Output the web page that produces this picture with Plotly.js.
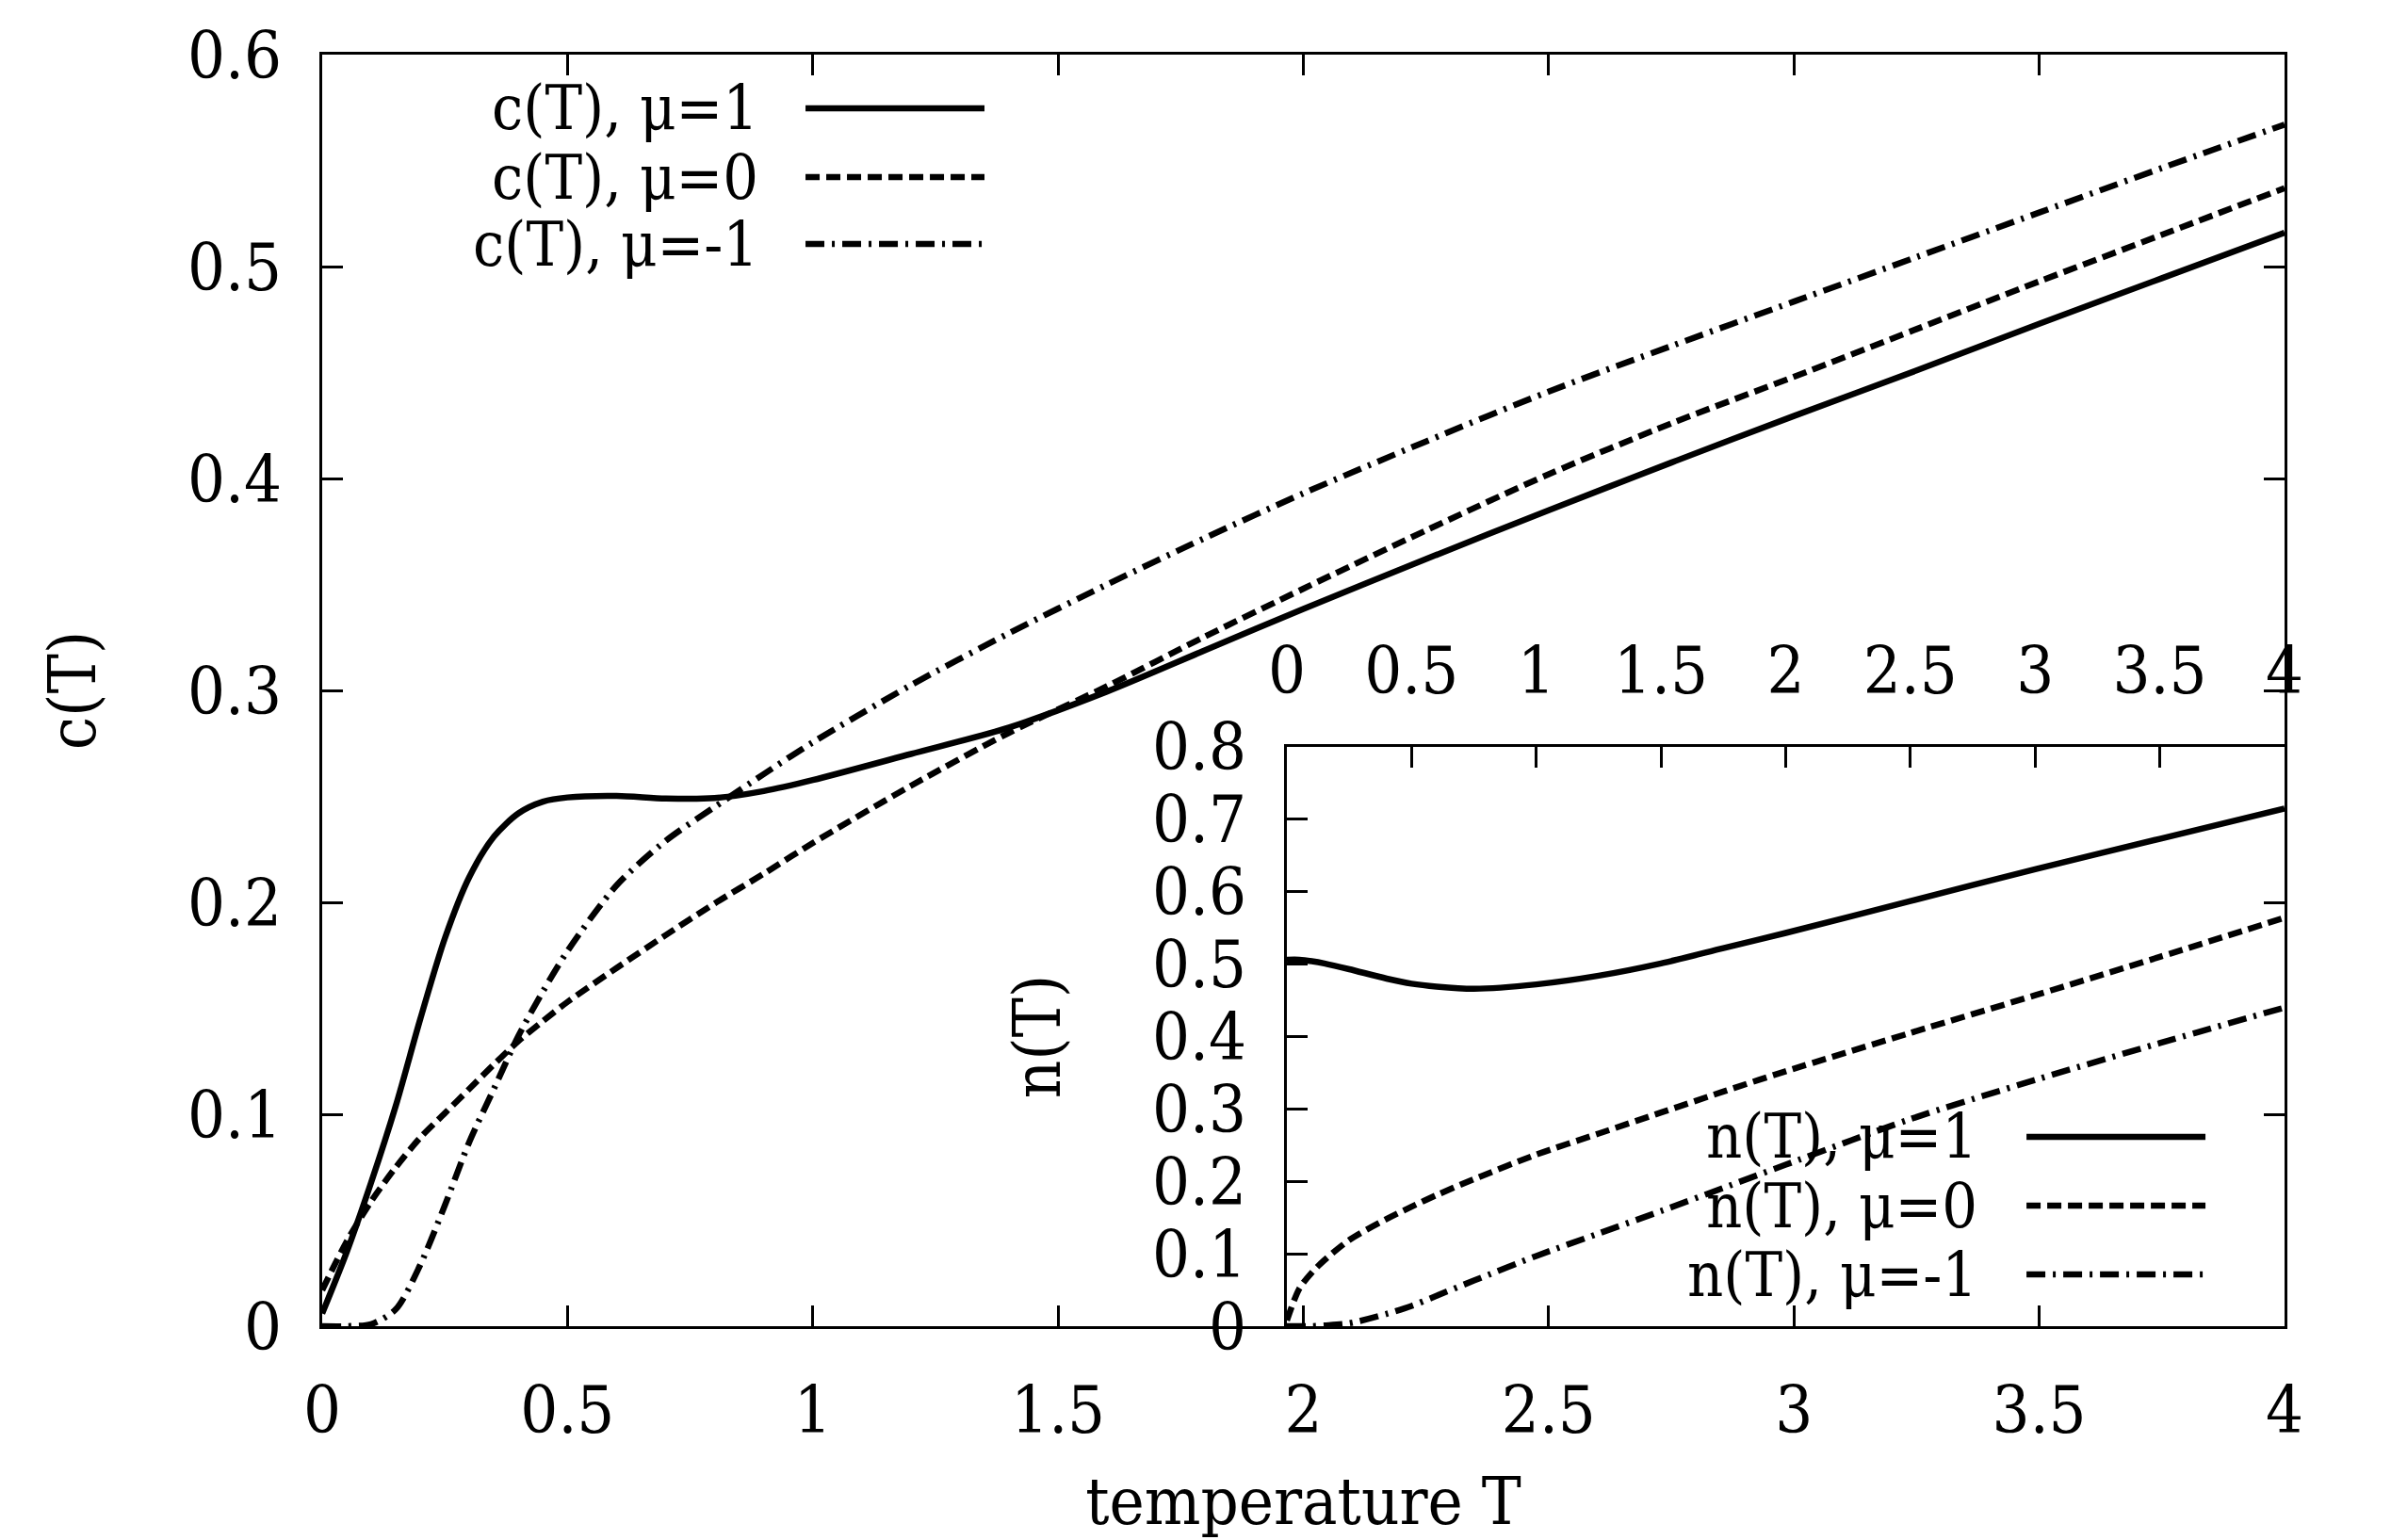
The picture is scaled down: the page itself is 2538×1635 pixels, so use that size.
<!DOCTYPE html>
<html>
<head>
<meta charset="utf-8">
<script src="https://cdn.plot.ly/plotly-3.0.1.min.js"></script>
<style>
  html, body { margin: 0; padding: 0; background: #fff; }
  #chart { width: 2538px; height: 1635px; }
</style>
</head>
<body>
<div id="chart"></div>
<script>
// temperature grid of the main panel
var tMain = [0, 0.05, 0.1, 0.15, 0.2, 0.25, 0.3, 0.35, 0.4, 0.45, 0.5, 0.6, 0.7, 0.8, 0.9, 1.0,
             1.2, 1.4, 1.6, 1.8, 2.0, 2.25, 2.5, 2.75, 3.0, 3.25, 3.5, 3.75, 4.0];
// c(T)
var cMu1 = [0.006, 0.035, 0.068, 0.104, 0.145, 0.183, 0.212, 0.231, 0.242, 0.2475, 0.2495, 0.2502, 0.249, 0.2492, 0.2525, 0.2577,
            0.270, 0.2825, 0.2995, 0.319, 0.3385, 0.362, 0.385, 0.4075, 0.4295, 0.451, 0.473, 0.4945, 0.516];
var cMu0 = [0.017, 0.040, 0.059, 0.075, 0.089, 0.1005, 0.112, 0.1235, 0.1345, 0.144, 0.153, 0.169, 0.1845, 0.1995, 0.2135, 0.228,
            0.255, 0.280, 0.302, 0.3255, 0.348, 0.3755, 0.402, 0.426, 0.448, 0.4705, 0.493, 0.515, 0.537];
var cMuM1 = [0, 0, 0.001, 0.008, 0.029, 0.057, 0.087, 0.112, 0.137, 0.158, 0.177, 0.208, 0.229, 0.245, 0.2605, 0.2755,
             0.3025, 0.327, 0.350, 0.372, 0.393, 0.4175, 0.441, 0.4625, 0.4835, 0.5045, 0.5255, 0.5465, 0.567];

// temperature grid of the inset
var tInset = [0, 0.05, 0.1, 0.15, 0.25, 0.4, 0.5, 0.6, 0.75, 1.0, 1.25, 1.5, 1.75, 2.0, 2.5, 3.0, 3.5, 4.0];
// n(T)
var nMu1 = [0.506, 0.506, 0.504, 0.501, 0.493, 0.480, 0.473, 0.469, 0.466, 0.472, 0.484, 0.501, 0.522, 0.543, 0.587, 0.631, 0.673, 0.715];
var nMu0 = [0.008, 0.052, 0.074, 0.091, 0.119, 0.148, 0.165, 0.181, 0.203, 0.237, 0.266, 0.295, 0.324, 0.352, 0.405, 0.457, 0.510, 0.564];
var nMuM1 = [0, 0, 0, 0.001, 0.004, 0.017, 0.028, 0.042, 0.063, 0.097, 0.128, 0.159, 0.191, 0.223, 0.286, 0.340, 0.391, 0.440];

var mainLabels = ['c(T), μ=1', 'c(T), μ=0', 'c(T), μ=-1'];
var insetLabels = ['n(T), μ=1', 'n(T), μ=0', 'n(T), μ=-1'];

var FONT = 'DejaVu Serif Condensed, DejaVu Serif, serif';
var dashes = ['solid', '15px,7px', '20px,8px,3px,8px'];
var LW = 6.5;

function curve(x, y, i, xa, ya, name) {
  return {
    x: x, y: y, xaxis: xa, yaxis: ya, name: name,
    type: 'scatter', mode: 'lines',
    line: {color: '#000', width: LW, dash: dashes[i], shape: 'spline', smoothing: 0.8},
    showlegend: false, hoverinfo: 'x+y+name'
  };
}

var data = [
  curve(tMain, cMu1, 0, 'x', 'y', mainLabels[0]),
  curve(tMain, cMu0, 1, 'x', 'y', mainLabels[1]),
  curve(tMain, cMuM1, 2, 'x', 'y', mainLabels[2]),
  curve(tInset, nMu1, 0, 'x2', 'y2', insetLabels[0]),
  curve(tInset, nMu0, 1, 'x2', 'y2', insetLabels[1]),
  curve(tInset, nMuM1, 2, 'x2', 'y2', insetLabels[2])
];

// hand-made gnuplot-style keys: text on the left, line sample on the right
var annotations = [], shapes = [];
function key(labels, xText, x0, x1, rows) {
  labels.forEach(function (lab, i) {
    annotations.push({
      xref: 'paper', yref: 'paper', x: xText, y: rows[i],
      xanchor: 'right', yanchor: 'middle', showarrow: false,
      text: lab, font: {family: FONT, size: 66, color: '#000'}
    });
    shapes.push({
      type: 'line', xref: 'paper', yref: 'paper',
      x0: x0, x1: x1, y0: rows[i], y1: rows[i],
      line: {color: '#000', width: LW, dash: dashes[i]}
    });
  });
}
key(mainLabels, 0.2232, 0.2463, 0.3375, [0.9578, 0.9037, 0.8511]);
key(insetLabels, 0.8445, 0.8685, 0.9597, [0.1489, 0.0948, 0.0407]);

var tickFont = {family: FONT, size: 70, color: '#000'};
var axisCommon = {
  showgrid: false, zeroline: false, showline: true,
  linecolor: '#000', linewidth: 3,
  ticks: 'inside', ticklen: 22, tickwidth: 3, tickcolor: '#000',
  tickfont: tickFont, ticklabelstandoff: 26, fixedrange: true
};

var layout = {
  width: 2538, height: 1635,
  margin: {l: 342, r: 113, t: 58, b: 227, pad: 0},
  paper_bgcolor: '#fff', plot_bgcolor: 'rgba(0,0,0,0)',
  showlegend: false,
  xaxis: Object.assign({}, axisCommon, {
    domain: [0, 1], range: [0, 4], dtick: 0.5, tick0: 0, mirror: 'ticks',
    title: {text: 'temperature T', font: {family: FONT, size: 70, color: '#000'}, standoff: 60}
  }),
  yaxis: Object.assign({}, axisCommon, {
    domain: [0, 1], range: [0, 0.6], dtick: 0.1, tick0: 0, mirror: 'ticks',
    title: {text: 'c(T)', font: {family: FONT, size: 70, color: '#000'}, standoff: 75}
  }),
  xaxis2: Object.assign({}, axisCommon, {
    domain: [0.4916, 1], range: [0, 4], dtick: 0.5, tick0: 0,
    anchor: 'y2', side: 'top', mirror: true
  }),
  yaxis2: Object.assign({}, axisCommon, {
    domain: [0, 0.4556], range: [0, 0.8], dtick: 0.1, tick0: 0,
    anchor: 'x2', mirror: true,
    title: {text: 'n(T)', font: {family: FONT, size: 70, color: '#000'}, standoff: 75}
  }),
  annotations: annotations,
  shapes: shapes
};

Plotly.newPlot('chart', data, layout, {displayModeBar: false, staticPlot: true});
</script>
</body>
</html>
